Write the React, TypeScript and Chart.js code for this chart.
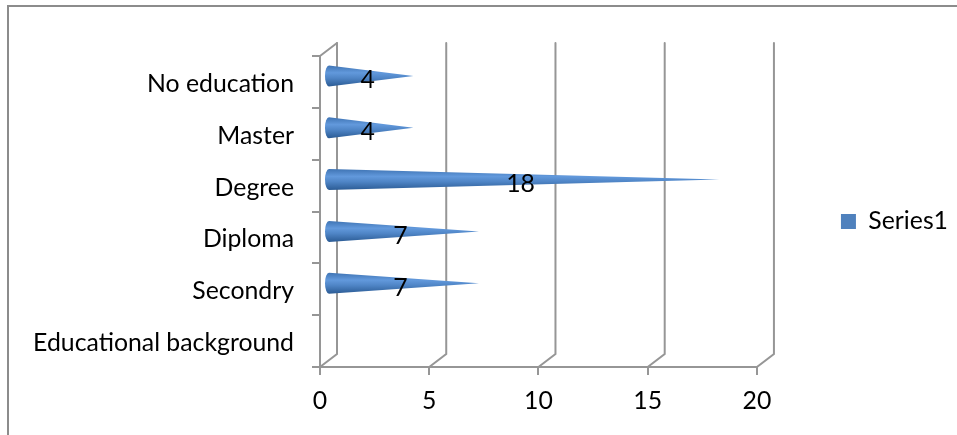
import React, { useEffect, useRef } from "react";
import { Chart, registerables } from "chart.js";

Chart.register(...registerables);

const categories = ["Educational background", "Secondry", "Diploma", "Degree", "Master", "No education"];
const seriesName = "Series1";
const seriesValues: (number | null)[] = [null, 7, 7, 18, 4, 4];
const xTicks = [0, 5, 10, 15, 20];

const FONT = "Lato, Carlito, 'Open Sans', sans-serif";
const SIZE = 24.8;
const AXIS = "#969696";
const DX = 17;
const DY = -13;

const walls = {
  id: "walls",
  beforeDatasetsDraw(chart: any) {
    const { ctx, chartArea, scales } = chart;
    const { top, bottom, left } = chartArea;
    ctx.save();
    ctx.strokeStyle = AXIS;
    ctx.lineWidth = 2;
    ctx.lineCap = "round";
    xTicks.forEach((t) => {
      const x = scales.x.getPixelForValue(t);
      ctx.beginPath();
      ctx.moveTo(x, bottom);
      ctx.lineTo(x + DX, bottom + DY);
      ctx.lineTo(x + DX, top + DY);
      ctx.stroke();
    });
    ctx.beginPath();
    ctx.moveTo(left, top);
    ctx.lineTo(left + DX, top + DY);
    ctx.stroke();
    ctx.restore();
  },
};

const cones = {
  id: "cones",
  beforeDatasetDraw(chart: any, args: any) {
    const { ctx, scales } = chart;
    const meta = args.meta;
    const baseX = scales.x.getPixelForValue(0) + 9;
    ctx.save();
    meta.data.forEach((bar: any, i: number) => {
      if (seriesValues[i] == null) return;
      const cy = bar.y - 6;
      const r = 10.5;
      const tip = bar.x + 6;
      const g = ctx.createLinearGradient(0, cy - r, 0, cy + r);
      g.addColorStop(0, "#3f74b4");
      g.addColorStop(0.35, "#6299dc");
      g.addColorStop(0.6, "#4f85c6");
      g.addColorStop(1, "#2b5b94");
      ctx.fillStyle = g;
      ctx.beginPath();
      ctx.moveTo(tip, cy);
      ctx.lineTo(baseX, cy + r);
      ctx.ellipse(baseX, cy, 4, r, 0, Math.PI / 2, (3 * Math.PI) / 2);
      ctx.closePath();
      ctx.fill();
    });
    ctx.restore();
    return false;
  },
  afterDatasetsDraw(chart: any) {
    const { ctx, scales } = chart;
    const meta = chart.getDatasetMeta(0);
    ctx.save();
    ctx.fillStyle = "#000";
    ctx.font = `${SIZE}px ${FONT}`;
    ctx.textAlign = "center";
    ctx.textBaseline = "middle";
    meta.data.forEach((bar: any, i: number) => {
      const v = seriesValues[i];
      if (v == null) return;
      ctx.fillText(String(v), (scales.x.getPixelForValue(0) + bar.x) / 2 + 4, bar.y - 1.5);
    });
    ctx.restore();
  },
};

const frame = {
  id: "frame",
  afterLayout(chart: any) {
    // the x axis labels sit below the reduced box: extend its clip area
    chart.scales.x.bottom = chart.height;
  },
  beforeDraw(chart: any) {
    const { ctx } = chart;
    ctx.save();
    ctx.fillStyle = "#fff";
    ctx.fillRect(0, 0, chart.width, chart.height);
    ctx.strokeStyle = "#8c8c8c";
    ctx.lineWidth = 2;
    ctx.beginPath();
    ctx.moveTo(8, 435);
    ctx.lineTo(8, 6);
    ctx.lineTo(957, 6);
    ctx.stroke();
    ctx.restore();
  },
};

export default function App() {
  const ref = useRef<HTMLCanvasElement>(null);
  useEffect(() => {
    const chart = new Chart(ref.current!, {
      type: "bar",
      data: {
        labels: categories,
        datasets: [{ label: seriesName, data: seriesValues, backgroundColor: "#4f81bd", borderWidth: 0 }],
      },
      plugins: [frame, walls, cones],
      options: {
        indexAxis: "y",
        animation: false,
        responsive: false,
        devicePixelRatio: 1,
        layout: { padding: { top: 56, bottom: 48, left: 0, right: -1 } },
        plugins: {
          tooltip: { enabled: false },
          legend: {
            position: "right",
            labels: {
              boxWidth: 15,
              boxHeight: 15,
              padding: 84,
              color: "#000",
              font: { family: FONT, size: SIZE },
            },
          },
        },
        scales: {
          x: {
            min: 0,
            max: 20,
            afterFit: (s: any) => { s.height = 20; },
            afterBuildTicks: (s: any) => { s.ticks = xTicks.map((value) => ({ value })); },
            grid: { drawOnChartArea: false, color: AXIS, lineWidth: 2, tickLength: 8 },
            border: { color: AXIS, width: 2 },
            ticks: { color: "#000", font: { family: FONT, size: SIZE }, padding: 11, maxRotation: 0 },
          },
          y: {
            reverse: true,
            afterFit: (s: any) => { s.width = 320; },
            grid: { drawOnChartArea: false, color: AXIS, lineWidth: 2, tickLength: 8 },
            border: { color: AXIS, width: 2 },
            ticks: { color: "#000", font: { family: FONT, size: SIZE }, padding: 18, labelOffset: 2 },
          },
        },
      } as any,
    });
    return () => chart.destroy();
  }, []);
  return (
    <div style={{ position: "absolute", left: 0, top: 0, width: 957, height: 435 }}>
      <canvas ref={ref} width={957} height={435} style={{ display: "block" }} />
    </div>
  );
}
